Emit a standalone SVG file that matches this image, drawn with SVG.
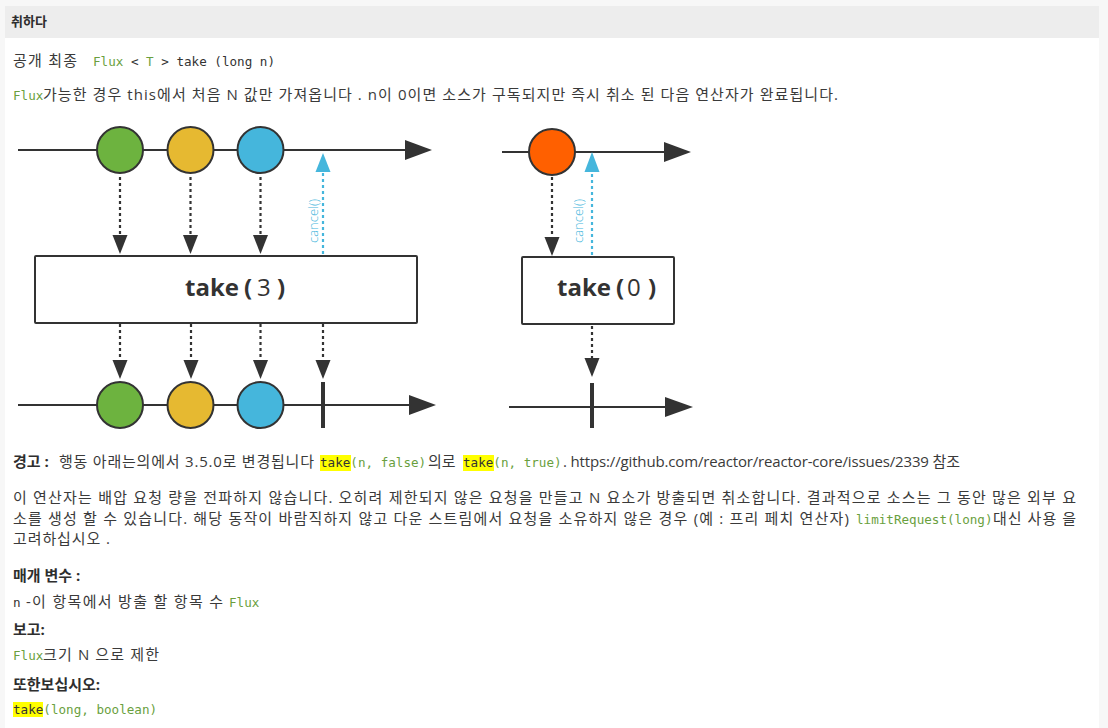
<svg xmlns="http://www.w3.org/2000/svg" width="1108" height="728" viewBox="0 0 1108 728">
<defs>
<style>
.t{font-family:"Open Sans","Noto Sans CJK KR",sans-serif;font-size:15px;fill:#3a3a3a}
.b{font-weight:bold;fill:#2e2e2e}
.m{font-family:"DejaVu Sans Mono","Liberation Mono",monospace;font-size:12.6px;fill:#333}
.g{fill:#6a9f3e}
.hl{fill:#ffff00}
.ln{stroke:#333;stroke-width:2.2;fill:none}
.dot{stroke:#333;stroke-width:2.2;stroke-dasharray:3 3;fill:none}
.cdot{stroke:#45b6dc;stroke-width:2.2;stroke-dasharray:3 3;fill:none}
.ah{fill:#333}
.cah{fill:#45b6dc}
.cir{stroke:#333;stroke-width:2}
.box{fill:#fff;stroke:#333;stroke-width:2}
.op{font-family:"Open Sans","Liberation Sans",sans-serif;font-size:24px;fill:#333}
.cl{font-family:"Open Sans","Liberation Sans",sans-serif;font-size:13px;font-weight:300;fill:#45b6dc}
</style>
</defs>
<rect x="0" y="0" width="1108" height="728" fill="#f7f7f7"/>
<rect x="5" y="6" width="1094" height="32" fill="#ededed"/>
<rect x="5" y="38" width="1094" height="690" fill="#ffffff"/>
<g id="header"><text class="t b" x="11" y="26" style="font-size:13px">취하다</text></g>
<g id="signature">
<text class="t" x="13" y="66" textLength="64">공개 최종</text>
<text class="m" x="93" y="66"><tspan class="g">Flux</tspan> &lt; <tspan class="g">T</tspan> &gt; take (long n)</text>
</g>
<g id="summary">
<text class="m g" x="13" y="100">Flux</text>
<text class="t" x="43" y="100" textLength="795">가능한 경우 this에서 처음 N 값만 가져옵니다 . n이 0이면 소스가 구독되지만 즉시 취소 된 다음 연산자가 완료됩니다.</text>
</g>
<g id="connectors">
<line class="ln" x1="18" y1="150" x2="406" y2="150"/>
<polygon class="ah" points="405,140 432,150 405,160"/>
<line class="ln" x1="18" y1="405" x2="410" y2="405"/>
<polygon class="ah" points="409,395 436,405 409,415"/>
<line class="ln" x1="502" y1="152" x2="665" y2="152"/>
<polygon class="ah" points="664,142 691,152 664,162"/>
<line class="ln" x1="509" y1="407" x2="666" y2="407"/>
<polygon class="ah" points="665,397 693,407 665,417"/>
<line class="dot" x1="120" y1="177" x2="120" y2="236"/>
<polygon class="ah" points="112.5,235 127.5,235 120,254"/>
<line class="dot" x1="190.5" y1="177" x2="190.5" y2="236"/>
<polygon class="ah" points="183,235 198,235 190.5,254"/>
<line class="dot" x1="260.5" y1="177" x2="260.5" y2="236"/>
<polygon class="ah" points="253,235 268,235 260.5,254"/>
<line class="cdot" x1="323" y1="254" x2="323" y2="171"/>
<polygon class="cah" points="315.5,172 330.5,172 323,153"/>
<line class="dot" x1="120" y1="324" x2="120" y2="361"/>
<polygon class="ah" points="112.5,360 127.5,360 120,379"/>
<line class="dot" x1="191" y1="324" x2="191" y2="361"/>
<polygon class="ah" points="183.5,360 198.5,360 191,379"/>
<line class="dot" x1="260.5" y1="324" x2="260.5" y2="361"/>
<polygon class="ah" points="253,360 268,360 260.5,379"/>
<line class="dot" x1="323" y1="324" x2="323" y2="361"/>
<polygon class="ah" points="315.5,360 330.5,360 323,379"/>
<line class="dot" x1="552" y1="177" x2="552" y2="238"/>
<polygon class="ah" points="544.5,237 559.5,237 552,256"/>
<line class="cdot" x1="592" y1="255" x2="592" y2="171"/>
<polygon class="cah" points="584.5,172 599.5,172 592,152"/>
<line class="dot" x1="592" y1="326" x2="592" y2="359"/>
<polygon class="ah" points="584.5,358 599.5,358 592,377"/>
<line x1="323" y1="382" x2="323" y2="428" stroke="#333" stroke-width="4"/>
<line x1="592" y1="383" x2="592" y2="428" stroke="#333" stroke-width="4"/>
<text class="cl" transform="translate(318,243) rotate(-90)">cancel()</text>
<text class="cl" transform="translate(583,243) rotate(-90)">cancel()</text>
</g>
<g id="src-green"><circle class="cir" cx="120" cy="150" r="23" fill="#6db33f"/></g>
<g id="src-yellow"><circle class="cir" cx="190.5" cy="150" r="23" fill="#e6b931"/></g>
<g id="src-blue"><circle class="cir" cx="260.5" cy="150" r="23" fill="#45b6dc"/></g>
<g id="out-green"><circle class="cir" cx="120" cy="405" r="23" fill="#6db33f"/></g>
<g id="out-yellow"><circle class="cir" cx="190.5" cy="405" r="23" fill="#e6b931"/></g>
<g id="out-blue"><circle class="cir" cx="260.5" cy="405" r="23" fill="#45b6dc"/></g>
<g id="src-orange"><circle class="cir" cx="552" cy="152" r="23" fill="#ff6000"/></g>
<g id="take3">
<rect class="box" x="35" y="256" width="382" height="67" rx="1"/>
<text class="op" y="296"><tspan x="185" font-weight="bold">take</tspan><tspan x="244" font-weight="bold">(</tspan><tspan x="257">3</tspan><tspan x="277" font-weight="bold">)</tspan></text>
</g>
<g id="take0">
<rect class="box" x="522" y="257" width="152" height="67" rx="1"/>
<text class="op" y="296"><tspan x="557" font-weight="bold">take</tspan><tspan x="616" font-weight="bold">(</tspan><tspan x="627">0</tspan><tspan x="648" font-weight="bold">)</tspan></text>
</g>
<g id="warning">
<text class="t b" x="13" y="467">경고 :</text>
<text class="t" x="59" y="467" textLength="255">행동 아래는의에서 3.5.0로 변경됩니다</text>
<rect class="hl" x="320" y="455" width="31" height="16"/>
<text class="m" x="320" y="467">take<tspan class="g">(n, false)</tspan></text>
<text class="t" x="428" y="467">의로</text>
<rect class="hl" x="463" y="455" width="31" height="16"/>
<text class="m" x="463" y="467">take<tspan class="g">(n, true)</tspan></text>
<text class="t" x="563" y="467" textLength="397">. https://github.com/reactor/reactor-core/issues/2339 참조</text>
</g>
<g id="description">
<text class="t" x="13" y="503" textLength="1063">이 연산자는 배압 요청 량을 전파하지 않습니다. 오히려 제한되지 않은 요청을 만들고 N 요소가 방출되면 취소합니다. 결과적으로 소스는 그 동안 많은 외부 요</text>
<text class="t" x="13" y="524" textLength="836">소를 생성 할 수 있습니다. 해당 동작이 바람직하지 않고 다운 스트림에서 요청을 소유하지 않은 경우 (예 : 프리 페치 연산자)</text>
<text class="m g" x="856" y="524">limitRequest(long)</text>
<text class="t" x="993" y="524" textLength="83">대신 사용 을</text>
<text class="t" x="13" y="544" textLength="97">고려하십시오 .</text>
</g>
<g id="params">
<text class="t b" x="13" y="581">매개 변수 :</text>
<text class="m" x="13" y="607">n</text>
<text class="t" x="26" y="607" textLength="197">-이 항목에서 방출 할 항목 수</text>
<text class="m g" x="229" y="607">Flux</text>
</g>
<g id="returns">
<text class="t b" x="13" y="635">보고:</text>
<text class="m g" x="13" y="660">Flux</text>
<text class="t" x="43" y="660" textLength="116">크기 N 으로 제한</text>
</g>
<g id="seealso">
<text class="t b" x="13" y="690">또한보십시오:</text>
<rect class="hl" x="13" y="702" width="30" height="15"/>
<text class="m" x="13" y="714">take<tspan class="g">(long, boolean)</tspan></text>
</g>
</svg>
